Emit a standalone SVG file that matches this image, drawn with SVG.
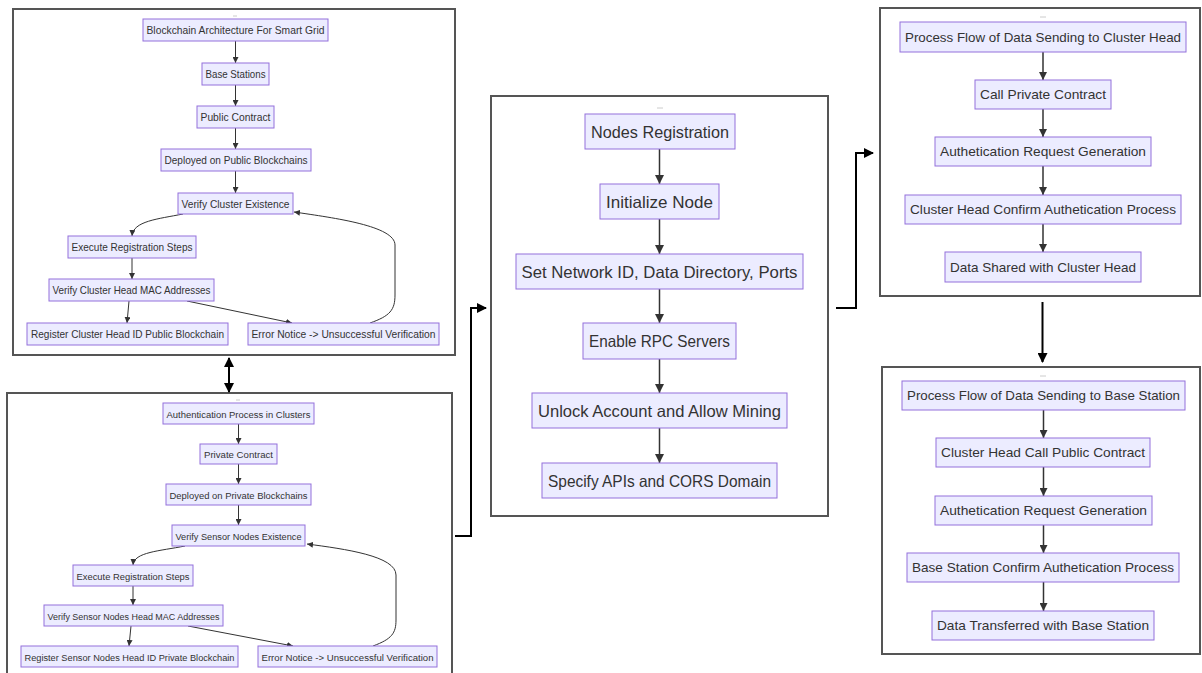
<svg xmlns="http://www.w3.org/2000/svg" width="1202" height="673" viewBox="0 0 1202 673">
<style>
.panel{fill:#fff;stroke:#555;stroke-width:2}
.n rect{fill:#ECECFF;stroke:#9370DB;stroke-width:1}
.n text{fill:#333;font-family:"Liberation Sans",Arial,sans-serif;text-anchor:middle;dominant-baseline:central}
.s text{font-size:10.2px}
.s2 text{font-size:9.7px}
.m text{font-size:16.5px}
.r text{font-size:13.4px}
.e{fill:none;stroke:#333;stroke-width:1}
.em{fill:none;stroke:#333;stroke-width:1.5}
.big{fill:none;stroke:#000;stroke-width:2}
.dash{stroke:#ccc;stroke-width:1}
</style>
<defs>
<marker id="as" viewBox="0 0 10 10" refX="10" refY="5" markerUnits="userSpaceOnUse" markerWidth="6" markerHeight="6" orient="auto"><path d="M0,0 L10,5 L0,10 z" fill="#333"/></marker>
<marker id="am" viewBox="0 0 10 10" refX="10" refY="5" markerUnits="userSpaceOnUse" markerWidth="9" markerHeight="9" orient="auto"><path d="M0,0 L10,5 L0,10 z" fill="#333"/></marker>
<marker id="ar" viewBox="0 0 10 10" refX="10" refY="5" markerUnits="userSpaceOnUse" markerWidth="8" markerHeight="8" orient="auto"><path d="M0,0 L10,5 L0,10 z" fill="#333"/></marker>
<marker id="ab" viewBox="0 0 10 10" refX="9" refY="5" markerUnits="userSpaceOnUse" markerWidth="10" markerHeight="10" orient="auto-start-reverse"><path d="M0,0 L10,5 L0,10 z" fill="#000"/></marker>
</defs>

<g id="panel-architecture">
<rect class="panel" x="13" y="9" width="442" height="346"/>
<line class="dash" x1="233" y1="16" x2="237" y2="16"/>
</g>
<g id="panel-authentication">
<rect class="panel" x="7" y="393" width="445" height="295"/>
<line class="dash" x1="236" y1="400" x2="240" y2="400"/>
</g>
<g id="panel-registration">
<rect class="panel" x="491" y="96" width="337" height="420"/>
<line class="dash" x1="657" y1="108" x2="663" y2="108"/>
</g>
<g id="panel-cluster-head">
<rect class="panel" x="880" y="8" width="320" height="288"/>
<line class="dash" x1="1040" y1="17" x2="1046" y2="17"/>
</g>
<g id="panel-base-station">
<rect class="panel" x="882" y="367" width="318" height="287"/>
<line class="dash" x1="1040" y1="376" x2="1046" y2="376"/>
</g>

<g id="connectors">
<line class="e" x1="235.5" y1="41" x2="235.5" y2="63" marker-end="url(#as)"/>
<line class="e" x1="235.5" y1="85" x2="235.5" y2="106" marker-end="url(#as)"/>
<line class="e" x1="235.5" y1="128" x2="235.5" y2="149" marker-end="url(#as)"/>
<line class="e" x1="235.5" y1="171" x2="235.5" y2="193" marker-end="url(#as)"/>
<path class="e" d="M183,214 C158,219 133,221 132,236" marker-end="url(#as)"/>
<line class="e" x1="132" y1="258" x2="132" y2="279" marker-end="url(#as)"/>
<line class="e" x1="129" y1="301" x2="127" y2="323" marker-end="url(#as)"/>
<line class="e" x1="187" y1="301" x2="292" y2="323" marker-end="url(#as)"/>
<path class="e" d="M370,323 C390,316 395,310 395,295 L395,245 C395,226 335,218 294,212" marker-end="url(#as)"/>
<line class="e" x1="238.5" y1="424" x2="238.5" y2="444" marker-end="url(#as)"/>
<line class="e" x1="238.5" y1="464" x2="238.5" y2="484" marker-end="url(#as)"/>
<line class="e" x1="238.5" y1="505" x2="238.5" y2="525" marker-end="url(#as)"/>
<path class="e" d="M185,546 C160,551 134,552 133,565" marker-end="url(#as)"/>
<line class="e" x1="133" y1="586" x2="133" y2="605" marker-end="url(#as)"/>
<line class="e" x1="131" y1="626" x2="129" y2="646" marker-end="url(#as)"/>
<line class="e" x1="188" y1="626" x2="293" y2="646" marker-end="url(#as)"/>
<path class="e" d="M373,646 C392,639 396,633 396,620 L396,575 C396,556 345,549 307,544" marker-end="url(#as)"/>
<line class="em" x1="659.5" y1="149" x2="659.5" y2="184" marker-end="url(#am)"/>
<line class="em" x1="659.5" y1="219" x2="659.5" y2="254" marker-end="url(#am)"/>
<line class="em" x1="659.5" y1="289" x2="659.5" y2="323" marker-end="url(#am)"/>
<line class="em" x1="659.5" y1="359" x2="659.5" y2="393" marker-end="url(#am)"/>
<line class="em" x1="659.5" y1="428" x2="659.5" y2="463" marker-end="url(#am)"/>
<line class="em" x1="1043" y1="52" x2="1043" y2="80" marker-end="url(#ar)"/>
<line class="em" x1="1043" y1="109" x2="1043" y2="137" marker-end="url(#ar)"/>
<line class="em" x1="1043" y1="166" x2="1043" y2="195" marker-end="url(#ar)"/>
<line class="em" x1="1043" y1="224" x2="1043" y2="252" marker-end="url(#ar)"/>
<line class="em" x1="1043.5" y1="410" x2="1043.5" y2="438" marker-end="url(#ar)"/>
<line class="em" x1="1043.5" y1="467" x2="1043.5" y2="496" marker-end="url(#ar)"/>
<line class="em" x1="1043.5" y1="525" x2="1043.5" y2="553" marker-end="url(#ar)"/>
<line class="em" x1="1043.5" y1="582" x2="1043.5" y2="611" marker-end="url(#ar)"/>
<line class="big" x1="229" y1="358" x2="229" y2="392" marker-start="url(#ab)" marker-end="url(#ab)"/>
<path class="big" d="M455,536 H471 V308 H486" marker-end="url(#ab)"/>
<path class="big" d="M836,308 H856 V153 H873" marker-end="url(#ab)"/>
<line class="big" x1="1042.5" y1="302" x2="1042.5" y2="362" marker-end="url(#ab)"/>
</g>

<g id="n-blockchain-arch" class="n s"><rect x="143" y="19" width="185" height="22"/><text x="235.5" y="30.5" textLength="178" lengthAdjust="spacingAndGlyphs">Blockchain Architecture For Smart Grid</text></g>
<g id="n-base-stations" class="n s"><rect x="202" y="63" width="67" height="22"/><text x="235.5" y="74.5" textLength="60" lengthAdjust="spacingAndGlyphs">Base Stations</text></g>
<g id="n-public-contract" class="n s"><rect x="197" y="106" width="77" height="22"/><text x="235.5" y="117.5" textLength="70" lengthAdjust="spacingAndGlyphs">Public Contract</text></g>
<g id="n-deployed-public" class="n s"><rect x="161" y="149" width="150" height="22"/><text x="236" y="160.5" textLength="143" lengthAdjust="spacingAndGlyphs">Deployed on Public Blockchains</text></g>
<g id="n-verify-cluster" class="n s"><rect x="178" y="193" width="115" height="21"/><text x="235.5" y="204" textLength="108" lengthAdjust="spacingAndGlyphs">Verify Cluster Existence</text></g>
<g id="n-execute-1" class="n s"><rect x="68" y="236" width="128" height="22"/><text x="132" y="247.5" textLength="121" lengthAdjust="spacingAndGlyphs">Execute Registration Steps</text></g>
<g id="n-verify-ch-mac" class="n s"><rect x="49" y="279" width="165" height="22"/><text x="131.5" y="290.5" textLength="158" lengthAdjust="spacingAndGlyphs">Verify Cluster Head MAC Addresses</text></g>
<g id="n-register-ch" class="n s"><rect x="27" y="323" width="201" height="22"/><text x="127.5" y="334.5" textLength="193" lengthAdjust="spacingAndGlyphs">Register Cluster Head ID Public Blockchain</text></g>
<g id="n-error-1" class="n s"><rect x="248" y="323" width="191" height="22"/><text x="343.5" y="334.5" textLength="184" lengthAdjust="spacingAndGlyphs">Error Notice -&gt; Unsuccessful Verification</text></g>

<g id="n-auth-clusters" class="n s2"><rect x="163" y="403" width="151" height="21"/><text x="238.5" y="414" textLength="144" lengthAdjust="spacingAndGlyphs">Authentication Process in Clusters</text></g>
<g id="n-private-contract" class="n s2"><rect x="200" y="444" width="77" height="20"/><text x="238.5" y="454.5" textLength="69" lengthAdjust="spacingAndGlyphs">Private Contract</text></g>
<g id="n-deployed-private" class="n s2"><rect x="166" y="484" width="145" height="21"/><text x="238.5" y="495" textLength="138" lengthAdjust="spacingAndGlyphs">Deployed on Private Blockchains</text></g>
<g id="n-verify-sensor" class="n s2"><rect x="172" y="525" width="133" height="21"/><text x="238.5" y="536" textLength="126" lengthAdjust="spacingAndGlyphs">Verify Sensor Nodes Existence</text></g>
<g id="n-execute-2" class="n s2"><rect x="73" y="565" width="120" height="21"/><text x="133" y="576" textLength="113" lengthAdjust="spacingAndGlyphs">Execute Registration Steps</text></g>
<g id="n-verify-sn-mac" class="n s2"><rect x="44" y="605" width="179" height="21"/><text x="133.5" y="616" textLength="172" lengthAdjust="spacingAndGlyphs">Verify Sensor Nodes Head MAC Addresses</text></g>
<g id="n-register-sn" class="n s2"><rect x="21" y="646" width="217" height="21"/><text x="129.5" y="657" textLength="210" lengthAdjust="spacingAndGlyphs">Register Sensor Nodes Head ID Private Blockchain</text></g>
<g id="n-error-2" class="n s2"><rect x="258" y="646" width="179" height="21"/><text x="347.5" y="657" textLength="172" lengthAdjust="spacingAndGlyphs">Error Notice -&gt; Unsuccessful Verification</text></g>

<g id="n-nodes-registration" class="n m"><rect x="585" y="114" width="150" height="35"/><text x="660" y="131.5" textLength="138" lengthAdjust="spacingAndGlyphs">Nodes Registration</text></g>
<g id="n-initialize-node" class="n m"><rect x="600" y="184" width="119" height="35"/><text x="659.5" y="201.5" textLength="107" lengthAdjust="spacingAndGlyphs">Initialize Node</text></g>
<g id="n-set-network" class="n m"><rect x="516" y="254" width="287" height="35"/><text x="659.5" y="271.5" textLength="276" lengthAdjust="spacingAndGlyphs">Set Network ID, Data Directory, Ports</text></g>
<g id="n-enable-rpc" class="n m"><rect x="583" y="323" width="153" height="36"/><text x="659.5" y="341" textLength="141" lengthAdjust="spacingAndGlyphs">Enable RPC Servers</text></g>
<g id="n-unlock-account" class="n m"><rect x="532" y="393" width="255" height="35"/><text x="659.5" y="410.5" textLength="243" lengthAdjust="spacingAndGlyphs">Unlock Account and Allow Mining</text></g>
<g id="n-specify-apis" class="n m"><rect x="542" y="463" width="235" height="35"/><text x="659.5" y="480.5" textLength="223" lengthAdjust="spacingAndGlyphs">Specify APIs and CORS Domain</text></g>

<g id="n-flow-cluster-head" class="n r"><rect x="900" y="22" width="286" height="30"/><text x="1043" y="37" textLength="276" lengthAdjust="spacingAndGlyphs">Process Flow of Data Sending to Cluster Head</text></g>
<g id="n-call-private" class="n r"><rect x="975" y="80" width="136" height="29"/><text x="1043" y="94.5" textLength="126" lengthAdjust="spacingAndGlyphs">Call Private Contract</text></g>
<g id="n-auth-request-1" class="n r"><rect x="935" y="137" width="216" height="29"/><text x="1043" y="151.5" textLength="206" lengthAdjust="spacingAndGlyphs">Authetication Request Generation</text></g>
<g id="n-ch-confirm" class="n r"><rect x="905" y="195" width="276" height="29"/><text x="1043" y="209.5" textLength="266" lengthAdjust="spacingAndGlyphs">Cluster Head Confirm Authetication Process</text></g>
<g id="n-data-shared" class="n r"><rect x="945" y="252" width="196" height="30"/><text x="1043" y="267" textLength="186" lengthAdjust="spacingAndGlyphs">Data Shared with Cluster Head</text></g>

<g id="n-flow-base-station" class="n r"><rect x="902" y="381" width="283" height="29"/><text x="1043.5" y="395.5" textLength="273" lengthAdjust="spacingAndGlyphs">Process Flow of Data Sending to Base Station</text></g>
<g id="n-ch-call-public" class="n r"><rect x="936" y="438" width="214" height="29"/><text x="1043" y="452.5" textLength="204" lengthAdjust="spacingAndGlyphs">Cluster Head Call Public Contract</text></g>
<g id="n-auth-request-2" class="n r"><rect x="935" y="496" width="217" height="29"/><text x="1043.5" y="510.5" textLength="207" lengthAdjust="spacingAndGlyphs">Authetication Request Generation</text></g>
<g id="n-bs-confirm" class="n r"><rect x="907" y="553" width="272" height="29"/><text x="1043" y="567.5" textLength="262" lengthAdjust="spacingAndGlyphs">Base Station Confirm Authetication Process</text></g>
<g id="n-data-transferred" class="n r"><rect x="932" y="611" width="222" height="29"/><text x="1043" y="625.5" textLength="212" lengthAdjust="spacingAndGlyphs">Data Transferred with Base Station</text></g>
</svg>
